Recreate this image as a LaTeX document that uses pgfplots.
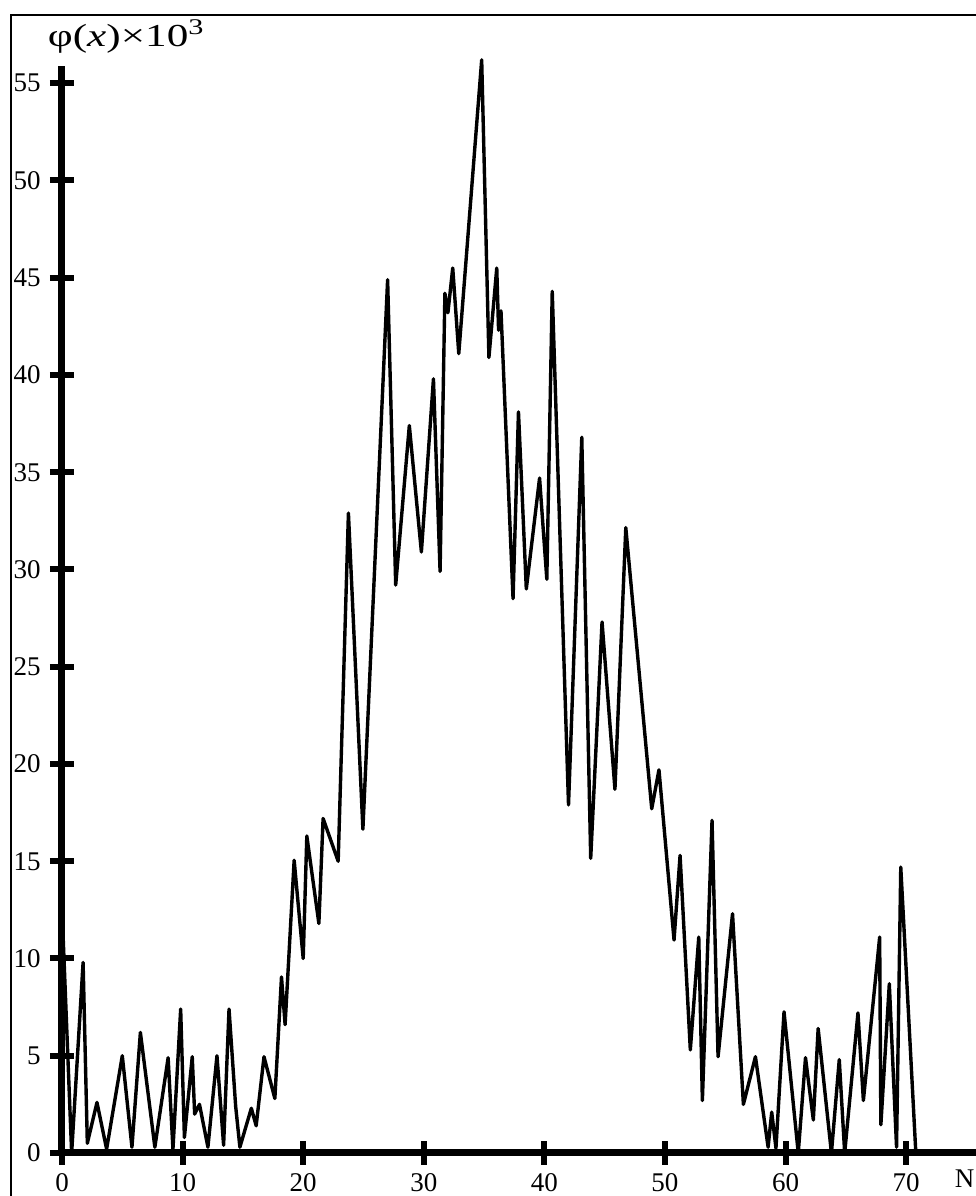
\documentclass[border=0pt]{standalone}
\usepackage{fontspec}
\setmainfont{Liberation Serif}
\usepackage{pgfplots}
\pgfplotsset{compat=1.18}
\pgfplotstableread{
x y
0 12.6
0.8 0
1.75 9.8
2.1 0.5
2.9 2.6
3.7 0.2
5.0 5.0
5.8 0.3
6.5 6.2
7.7 0.3
8.8 4.9
9.2 0.2
9.84 7.4
10.15 0.8
10.8 4.95
11.0 2.0
11.4 2.5
12.1 0.3
12.85 5.0
13.4 0.4
13.85 7.4
14.4 2.4
14.75 0.3
15.7 2.3
16.1 1.4
16.75 4.95
17.65 2.8
18.2 9.05
18.5 6.6
19.25 15.05
20.0 10.0
20.3 16.3
21.3 11.8
21.65 17.2
22.9 15.0
23.75 32.9
24.95 16.65
27.0 44.9
27.67 29.2
28.8 37.4
29.8 30.9
30.8 39.8
31.35 29.9
31.75 44.2
32.0 43.2
32.4 45.5
32.9 41.1
34.8 56.2
35.4 40.9
36.05 45.5
36.2 42.3
36.4 43.3
37.4 28.5
37.85 38.1
38.5 29.0
39.6 34.7
40.2 29.5
40.65 44.3
42.0 17.9
43.1 36.8
43.84 15.15
44.78 27.3
45.85 18.7
46.75 32.15
48.9 17.7
49.5 19.7
50.75 10.95
51.25 15.3
52.1 5.3
52.8 11.1
53.1 2.7
53.9 17.1
54.4 4.95
55.6 12.3
56.5 2.5
57.5 4.95
58.55 0.3
58.85 2.1
59.2 0.25
59.87 7.26
61.05 0
61.65 4.9
62.3 1.7
62.7 6.4
63.8 0
64.45 4.8
64.9 0
66.0 7.2
66.45 2.7
67.8 11.1
67.9 1.45
68.6 8.7
69.2 0.3
69.55 14.7
70.8 0
}\datatable
\begin{document}
\begin{tikzpicture}
\useasboundingbox (-31pt,-21.5pt) rectangle (457pt,576.5pt);
\draw[line width=1pt] (-25.5pt,-40pt) -- (-25.5pt,569pt) -- (480pt,569pt);
\begin{axis}[
  at={(0pt,0pt)}, anchor=south west,
  x=6.03pt, y=9.725pt,
  xmin=0, xmax=78, ymin=0, ymax=55.7,
  axis lines=left,
  axis line style={-, line width=3.5pt, line cap=rect},
  clip=false,
  xtick={0,10,...,70}, ytick={0,5,...,55},
  tick align=center,
  major tick length=12pt,
  every tick/.style={black, line width=3pt},
  tick label style={font=\fontsize{13.5}{15}\selectfont, inner sep=0pt},
  /pgf/number format/assume math mode=true,
  yticklabel style={anchor=east, xshift=-4.5pt},
  xticklabel style={anchor=north, yshift=-4pt},
]
\addplot[black, line width=1.7pt, line join=round] table[x=x, y=y] {\datatable};
\node[anchor=west, inner sep=0pt, font=\fontsize{16}{18}\selectfont] at (axis cs:-1.2,57.4) {\scalebox{1.35}[1]{φ(\textit{x})×10\textsuperscript{3}}};
\node[anchor=north west, inner sep=0pt, font=\fontsize{13.5}{15}\selectfont, yshift=-8pt] at (axis cs:74.0,0) {N};
\end{axis}
\end{tikzpicture}
\end{document}
